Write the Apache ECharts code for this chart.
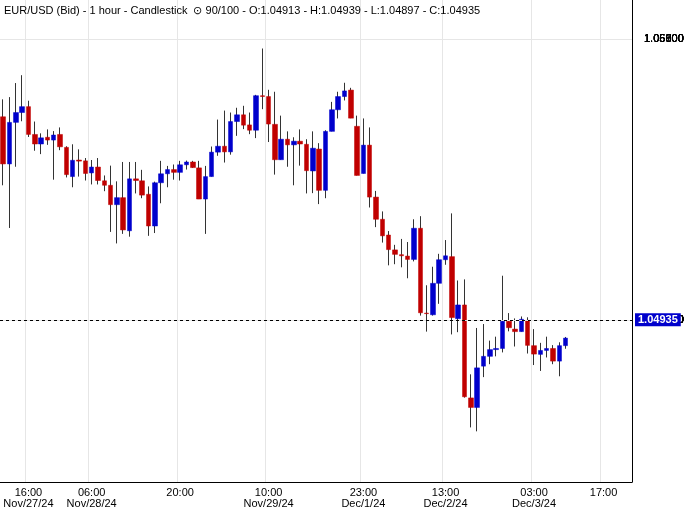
<!DOCTYPE html>
<html><head><meta charset="utf-8">
<script src="https://cdn.jsdelivr.net/npm/echarts@6/dist/echarts.min.js"></script>
<style>html,body{margin:0;padding:0;background:#fff}#c{width:689px;height:509px}</style>
</head><body><div id="c"></div>
<script>
const opens = [1.05723,1.05555,1.05703,1.05738,1.05759,1.05660,1.05626,1.05650,1.05640,1.05660,
1.05614,1.05510,1.05569,1.05566,1.05523,1.05544,1.05495,1.05479,1.05410,1.05435,
1.05317,1.05502,1.05495,1.05447,1.05334,1.05488,1.05520,1.05535,1.05525,1.05552,
1.05562,1.05541,1.05430,1.05510,1.05597,1.05618,1.05598,1.05706,1.05730,1.05694,
1.05675,1.05798,1.05795,1.05696,1.05570,1.05643,1.05623,1.05636,1.05625,1.05530,
1.05608,1.05461,1.05671,1.05748,1.05795,1.05818,1.05689,1.05521,1.05622,1.05437,
1.05358,1.05302,1.05249,1.05232,1.05227,1.05215,1.05326,1.05024,1.05018,1.05130,
1.05214,1.05225,1.05004,1.05053,1.04722,1.04688,1.04835,1.04870,1.04894,1.04898,
1.04995,1.04967,1.04958,1.04998,1.04908,1.04877,1.04891,1.04898,1.04853,1.04908];
const closes = [1.05555,1.05703,1.05738,1.05759,1.05660,1.05626,1.05648,1.05640,1.05658,1.05616,
1.05517,1.05568,1.05565,1.05521,1.05544,1.05496,1.05479,1.05410,1.05435,1.05320,
1.05502,1.05496,1.05444,1.05334,1.05488,1.05520,1.05535,1.05525,1.05552,1.05562,
1.05542,1.05430,1.05510,1.05597,1.05618,1.05598,1.05706,1.05730,1.05693,1.05675,
1.05798,1.05795,1.05697,1.05570,1.05643,1.05623,1.05636,1.05626,1.05531,1.05611,
1.05461,1.05671,1.05748,1.05795,1.05815,1.05718,1.05514,1.05622,1.05437,1.05358,
1.05299,1.05250,1.05233,1.05228,1.05215,1.05326,1.05025,1.05022,1.05130,1.05214,
1.05228,1.05008,1.05053,1.04726,1.04688,1.04829,1.04870,1.04894,1.04898,1.04995,
1.04972,1.04958,1.05002,1.04909,1.04878,1.04891,1.04898,1.04853,1.04908,1.04935];
const lows = [1.05479,1.05327,1.05545,1.05707,1.05651,1.05602,1.05590,1.05623,1.05499,1.05604,
1.05507,1.05472,1.05510,1.05496,1.05482,1.05482,1.05458,1.05313,1.05272,1.05306,
1.05296,1.05450,1.05433,1.05299,1.05309,1.05415,1.05472,1.05499,1.05496,1.05535,
1.05541,1.05430,1.05306,1.05510,1.05584,1.05560,1.05588,1.05655,1.05679,1.05661,
1.05647,1.05750,1.05633,1.05517,1.05570,1.05545,1.05479,1.05549,1.05450,1.05451,
1.05412,1.05433,1.05671,1.05717,1.05781,1.05718,1.05514,1.05521,1.05400,1.05330,
1.05275,1.05194,1.05198,1.05187,1.05148,1.05208,1.05015,1.04958,1.05015,1.05057,
1.05196,1.04948,1.04956,1.04723,1.04617,1.04603,1.04796,1.04842,1.04870,1.04884,
1.04959,1.04905,1.04958,1.04880,1.04839,1.04818,1.04866,1.04842,1.04799,1.04897];
const highs = [1.05785,1.05793,1.05843,1.05871,1.05780,1.05706,1.05664,1.05678,1.05672,1.05685,
1.05618,1.05625,1.05607,1.05576,1.05569,1.05576,1.05514,1.05549,1.05493,1.05562,
1.05562,1.05562,1.05534,1.05475,1.05492,1.05566,1.05548,1.05553,1.05566,1.05567,
1.05566,1.05566,1.05548,1.05617,1.05713,1.05745,1.05738,1.05755,1.05762,1.05738,
1.05801,1.05966,1.05819,1.05812,1.05727,1.05671,1.05650,1.05678,1.05643,1.05671,
1.05629,1.05675,1.05776,1.05812,1.05844,1.05826,1.05727,1.05717,1.05685,1.05459,
1.05386,1.05316,1.05267,1.05288,1.05277,1.05358,1.05369,1.05123,1.05189,1.05235,
1.05284,1.05379,1.05140,1.05144,1.04806,1.04971,1.04985,1.04926,1.04940,1.05157,
1.05024,1.05005,1.05012,1.05009,1.04967,1.04918,1.04940,1.04910,1.04920,1.04939];
const tickIndex = [4,14,28,42,57,70,84,95];
const tickText = ['16:00\nNov/27/24','06:00\nNov/28/24','20:00','10:00\nNov/29/24','23:00\nDec/1/24','13:00\nDec/2/24','03:00\nDec/3/24','17:00'];
const yTicks = [1.061,1.060,1.059,1.058,1.057,1.056,1.055,1.054,1.053,1.052,1.051,1.050,1.049,1.048,1.047,1.046,1.045,1.044];
const lastPrice = 1.04935;
const title = 'EUR/USD (Bid) - 1 hour - Candlestick  ⊙ 90/100 - O:1.04913 - H:1.04939 - L:1.04897 - C:1.04935';

const N = 100;
const cats = [];
for (let i = 0; i < N; i++) { const t = tickIndex.indexOf(i); cats.push(t >= 0 ? tickText[t] : ''); }
const wick = opens.map((o, i) => [o, closes[i], lows[i], highs[i]]);
const body = opens.map((o, i) => [o, closes[i], Math.min(o, closes[i]), Math.max(o, closes[i])]);
const isTick = (i) => tickIndex.indexOf(i) >= 0;
const chart = echarts.init(document.getElementById('c'));
chart.setOption({
  animation: false,
  textStyle: { fontFamily: 'Liberation Sans' },
  graphic: [{ type: 'text', left: 4, top: 5, z: 100, style: { text: title, font: '11px "Liberation Sans"', fill: '#000' } }],
  grid: { left: 0, right: 57, top: 0, bottom: 21 },
  xAxis: {
    type: 'category', data: cats, boundaryGap: true,
    axisLine: { lineStyle: { color: '#000' } },
    axisTick: { show: false },
    axisLabel: { interval: (i) => isTick(i), color: '#000', fontSize: 11, lineHeight: 11, margin: 5 },
    splitLine: { show: true, interval: (i) => isTick(i), lineStyle: { color: '#e6e6e6' } }
  },
  yAxis: {
    type: 'value', position: 'right', min: 1.044226, max: 1.061387,
    axisLine: { show: true, lineStyle: { color: '#000' } },
    axisTick: { show: false }, axisLabel: { show: false }, splitLine: { show: false }
  },
  series: [
    { type: 'line', data: closes, showSymbol: false, silent: true, lineStyle: { opacity: 0 }, z: 1,
      markLine: { silent: true, symbol: 'none', animation: false,
        data: yTicks.map(v => ({ yAxis: v, label: { formatter: v.toFixed(5) } })),
        lineStyle: { color: '#e6e6e6', type: 'solid', width: 1 },
        label: { position: 'end', distance: 12, color: '#000', fontSize: 11 } } },
    { type: 'candlestick', data: wick, barWidth: 1, z: 3,
      itemStyle: { color: '#333', color0: '#333', borderColor: '#333', borderColor0: '#333', borderWidth: 1 } },
    { type: 'candlestick', data: body, barWidth: 5, z: 4,
      itemStyle: { color: '#0000cc', color0: '#c00000', borderColor: '#0000cc', borderColor0: '#c00000', borderWidth: 0.5 } },
    { type: 'line', data: closes, showSymbol: false, silent: true, lineStyle: { opacity: 0 }, z: 5,
      markLine: { silent: true, symbol: 'none', animation: false, data: [{ yAxis: lastPrice }],
        lineStyle: { color: '#000', type: [3, 3], width: 1 },
        label: { position: 'end', distance: 3, formatter: lastPrice.toFixed(5), color: '#fff', fontWeight: 'bold', fontSize: 11,
          backgroundColor: '#0000cc', padding: [1, 3] } } }
  ]
});
</script></body></html>
